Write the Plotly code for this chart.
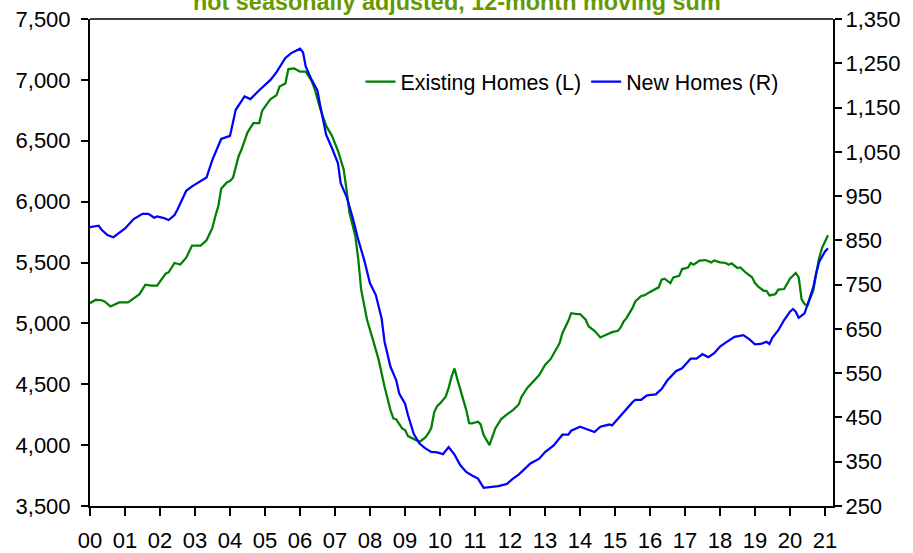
import plotly.graph_objects as go

# month index counted from Jan 2000
existing_months = [0, 2, 4, 5, 7, 10, 13, 15, 17, 19, 21, 23, 26, 27, 29, 31, 33, 35, 38, 40,
                   42, 43, 44, 45, 47, 48, 49, 51, 52, 54, 56, 58, 59, 61, 62, 64, 65, 67, 68, 70,
                   72, 74, 76, 77, 79, 81, 83, 85, 87, 88, 89, 91, 92, 93, 95, 97, 99, 101, 102, 103,
                   104, 105, 107, 108, 109, 111, 113, 115, 116, 117, 118, 119, 120, 122, 123, 124, 125, 126, 127, 128,
                   129, 130, 131, 133, 134, 135, 137, 139, 141, 143, 145, 147, 148, 150, 152, 154, 156, 158, 161, 162,
                   164, 165, 167, 168, 170, 171, 173, 175, 177, 179, 181, 182, 183, 184, 186, 187, 189, 190, 192, 194,
                   195, 196, 197, 199, 200, 202, 203, 205, 206, 207, 209, 211, 213, 214, 216, 218, 219, 220, 222, 223,
                   225, 227, 228, 229, 231, 232, 233, 235, 236, 238, 240, 242, 243, 244, 245, 246, 247, 248, 249, 250,
                   251, 252, 253]
existing_homes = [5166, 5194, 5190, 5180, 5139, 5172, 5172, 5208, 5240, 5318, 5310, 5310, 5408, 5420, 5496, 5483, 5540, 5639, 5639, 5683,
                  5784, 5880, 5963, 6105, 6160, 6169, 6196, 6375, 6430, 6567, 6644, 6644, 6745, 6815, 6842, 6875, 6945, 6970, 7089, 7094,
                  7067, 7067, 6993, 6929, 6759, 6622, 6540, 6416, 6265, 6100, 5908, 5716, 5524, 5277, 5030, 4865, 4700, 4480, 4380, 4290,
                  4219, 4211, 4137, 4124, 4074, 4050, 4027, 4063, 4096, 4140, 4270, 4320, 4343, 4398, 4470, 4560, 4630, 4540, 4460, 4380,
                  4290, 4180, 4178, 4192, 4170, 4082, 4000, 4137, 4214, 4252, 4288, 4334, 4398, 4472, 4521, 4576, 4659, 4708, 4837, 4919,
                  5021, 5084, 5077, 5077, 5030, 4975, 4939, 4884, 4906, 4928, 4939, 4966, 5016, 5043, 5125, 5180, 5225, 5230, 5257, 5285,
                  5296, 5359, 5367, 5331, 5378, 5390, 5446, 5458, 5496, 5482, 5516, 5520, 5501, 5516, 5501, 5496, 5482, 5493, 5455, 5460,
                  5414, 5378, 5331, 5304, 5268, 5268, 5230, 5240, 5277, 5282, 5367, 5414, 5378, 5200, 5158, 5147, 5207, 5270, 5410, 5540,
                  5620, 5680, 5724]

new_months = [0, 3, 4, 6, 8, 10, 12, 15, 18, 20, 22, 23, 25, 27, 29, 30, 33, 35, 37, 40,
              42, 44, 45, 48, 50, 53, 55, 58, 61, 62, 64, 67, 69, 70, 72, 73, 74, 76, 78, 79,
              81, 83, 85, 86, 88, 90, 92, 94, 96, 98, 100, 101, 103, 105, 106, 108, 109, 111, 113, 115,
              117, 119, 121, 123, 125, 127, 129, 131, 133, 135, 138, 140, 143, 145, 147, 149, 151, 154, 156, 159,
              162, 164, 165, 168, 171, 173, 175, 178, 179, 182, 184, 186, 187, 189, 191, 194, 196, 198, 201, 203,
              206, 208, 210, 212, 214, 216, 218, 221, 224, 226, 228, 230, 232, 233, 234, 236, 238, 240, 241, 242,
              243, 245, 246, 248, 249, 250, 252, 253]
new_homes = [880, 883, 874, 862, 857, 866, 877, 898, 910, 910, 901, 904, 901, 896, 907, 919, 962, 972, 981, 992,
             1032, 1062, 1079, 1086, 1145, 1175, 1169, 1189, 1207, 1213, 1230, 1262, 1273, 1277, 1283, 1275, 1243, 1213, 1189, 1153,
             1088, 1058, 1024, 979, 949, 904, 851, 806, 753, 727, 674, 621, 565, 534, 504, 481, 455, 413, 391, 380,
             372, 371, 367, 383, 366, 342, 327, 319, 312, 291, 293, 295, 300, 312, 321, 333, 346, 357, 372, 387,
             411, 411, 420, 429, 421, 417, 429, 434, 432, 455, 470, 484, 490, 490, 500, 502, 514, 534, 555, 561,
             583, 583, 593, 586, 595, 610, 619, 632, 636, 627, 615, 616, 621, 616, 630, 647, 670, 689, 695, 689,
             675, 685, 704, 745, 776, 802, 825, 832]

year_labels = ["00", "01", "02", "03", "04", "05", "06", "07", "08", "09", "10",
               "11", "12", "13", "14", "15", "16", "17", "18", "19", "20", "21"]
left_ticks = [3500, 4000, 4500, 5000, 5500, 6000, 6500, 7000, 7500]
right_ticks = [250, 350, 450, 550, 650, 750, 850, 950, 1050, 1150, 1250, 1350]


def to_dates(months):
    return [f"{2000 + m // 12}-{m % 12 + 1:02d}-01" for m in months]


year_ticks = [f"20{y}-01-01" for y in year_labels]

FONT = "Liberation Sans, Arial, sans-serif"

fig = go.Figure()
fig.add_trace(go.Scatter(x=to_dates(existing_months), y=existing_homes, name="Existing Homes (L)",
                         mode="lines", line=dict(color="#008000", width=2.25), yaxis="y"))
fig.add_trace(go.Scatter(x=to_dates(new_months), y=new_homes, name="New Homes (R)",
                         mode="lines", line=dict(color="#0000FF", width=2.25), yaxis="y2"))

fig.update_layout(
    width=913, height=553, autosize=False,
    margin=dict(l=90, r=80, t=19, b=47, pad=0),
    paper_bgcolor="white", plot_bgcolor="white",
    font=dict(family=FONT, color="black", size=22),
    showlegend=True,
    legend=dict(orientation="h", x=0.364, y=0.871, xanchor="left", yanchor="middle",
                font=dict(size=21.4, family=FONT, color="black"), bgcolor="rgba(0,0,0,0)",
                itemclick=False),
    xaxis=dict(type="date", range=["2000-01-01", "2021-03-25"], automargin=False,
               tickvals=year_ticks, ticktext=year_labels,
               showgrid=False, zeroline=False, showline=True, linecolor="black", linewidth=2,
               ticks="outside", ticklen=8, tickwidth=1.5, tickcolor="black",
               tickfont=dict(size=22, family=FONT, color="black"), ticklabelstandoff=6),
    yaxis=dict(range=[3500, 7500], tickvals=left_ticks, tickformat=",d", automargin=False,
               showgrid=False, zeroline=False, showline=True, linecolor="black", linewidth=2,
               ticks="outside", ticklen=7, tickwidth=1.5, tickcolor="black",
               tickfont=dict(size=22, family=FONT, color="black"), ticklabelstandoff=6),
    yaxis2=dict(range=[250, 1350], tickvals=right_ticks, tickformat=",d", automargin=False,
                overlaying="y", side="right",
                showgrid=False, zeroline=False, showline=True, linecolor="black", linewidth=2,
                ticks="outside", ticklen=7, tickwidth=1.5, tickcolor="black",
                tickfont=dict(size=22, family=FONT, color="black"), ticklabelstandoff=-1),
)

fig.add_shape(type="line", xref="paper", yref="paper", x0=0, x1=1, y0=1, y1=1,
              line=dict(color="black", width=1.5))

fig.add_annotation(text="<b>not seasonally adjusted, 12-month moving sum</b>",
                   xref="paper", yref="paper", x=0.494, y=1.034,
                   xanchor="center", yanchor="middle", showarrow=False,
                   font=dict(size=23.4, family=FONT, color="#669900"))

fig.write_html("out.html", config={"displayModeBar": False},
               post_script="document.body.style.margin='0px';document.body.style.padding='0px';")
